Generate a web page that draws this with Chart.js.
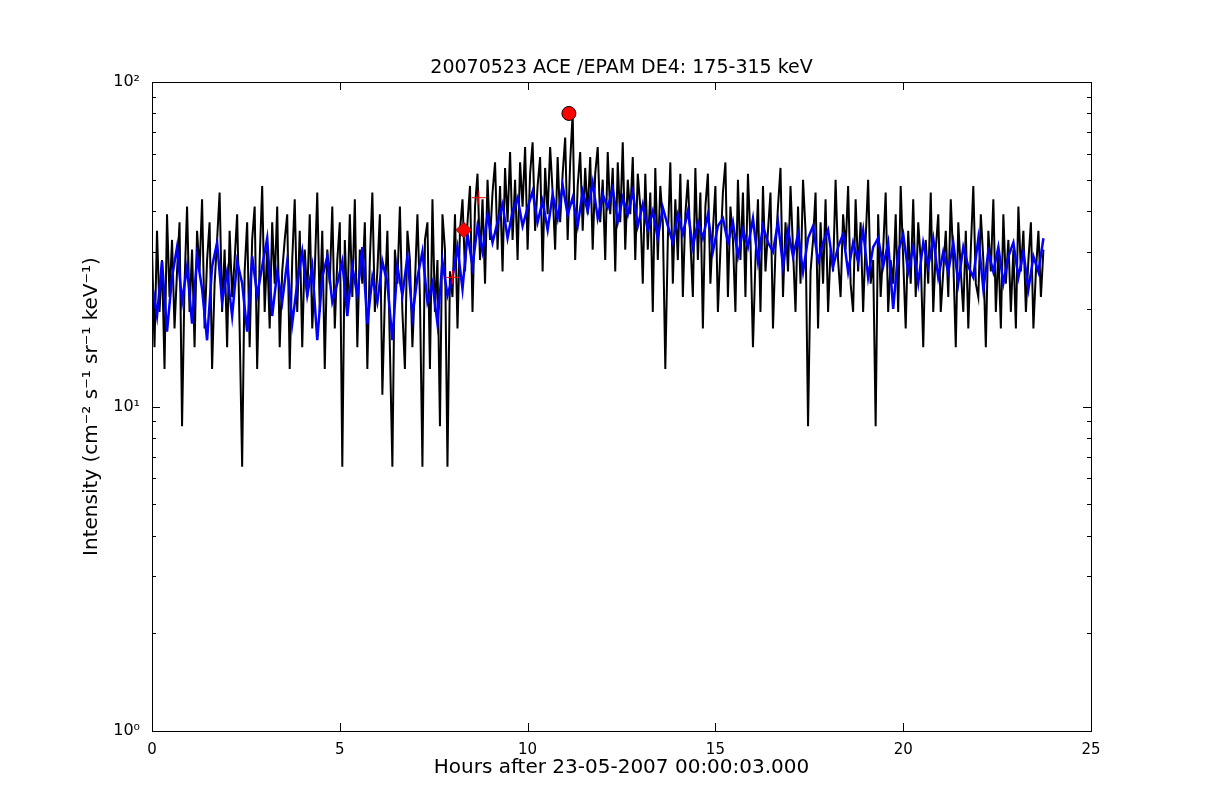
<!DOCTYPE html>
<html>
<head>
<meta charset="utf-8">
<script src="https://cdn.jsdelivr.net/npm/chart.js@4/dist/chart.umd.min.js"></script>
<style>
body { margin: 0; background: #fff; }
#wrap { width: 1212px; height: 812px; }
</style>
</head>
<body>
<div id="wrap"><canvas id="c" width="1212" height="812"></canvas></div>
<script>
// raw counts per 4-minute sample, scaled to intensity below
const countScale = 2.174
const blackStep = 1 / 15
const blackCounts = [
14,7,16,9,13,6,18,10,15,8,12,17,4,11,19,9,14,7,16,12,
20,8,13,17,6,11,15,21,9,14,7,16,10,13,18,8,3,12,17,7,
15,19,6,13,22,9,14,8,17,11,19,7,12,15,18,6,13,20,9,16,
7,14,10,18,8,12,21,9,16,6,14,11,19,8,13,17,3,15,9,18,
10,20,7,14,11,17,6,13,21,9,12,18,5,10,16,7,3,14,11,19,
9,6,16,13,7,11,18,10,3,15,17,6,20,9,13,4,18,14,3,12,
10,18,8,16,20,12,17,22,9,19,24,13,20,11,23,15,21,26,14,22,
12,25,17,28,15,23,13,26,19,29,14,24,30,16,22,27,12,25,18,29,
21,14,27,17,24,31,15,26,37,13,22,28,16,25,18,27,14,24,29,17,
23,13,28,18,25,12,26,17,30,14,23,18,27,13,24,
19,11,24,14,21,9,25,13,22,17,6,15,26,11,20,13,24,10,18,23,
15,10,25,13,21,8,19,24,11,16,22,9,14,21,26,10,19,15,9,23,
13,21,10,24,15,7,13,20,9,22,12,16,21,8,14,19,25,10,17,12,
22,14,9,19,11,23,16,4,12,15,21,8,17,11,20,9,14,12,23,13,
10,18,14,22,11,9,20,12,17,9,15,23,11,13,4,18,10,14,21,9,
13,11,18,9,22,13,8,16,11,20,10,17,13,7,15,11,21,9,14,18,
9,12,16,10,20,13,7,17,12,9,16,8,14,22,11,10,18,13,7,16,
12,20,9,14,8,18,11,15,9,14,8,19,12,16,9,13,17,8,12,16,
10,14
]

// smoothed intensity, 8-minute samples
const blueStep = 2 / 15
const blueValues = [
24,19,28,17,25,31,21,27,18,29,23,16,27,32,21,26,19,28,24,17,
29,22,27,33,19,26,21,28,18,24,30,22,27,16,25,29,21,24,28,19,
27,22,31,18,25,21,28,24,16,27,22,29,19,25,30,21,24,18,28,22,
25,31,23,34,27,36,30,39,32,37,42,33,40,44,36,41,46,37,43,35,
45,38,48,39,44,36,46,40,49,38,45,41,47,37,44,39,46,36,
42,35,40,33,41,36,32,39,34,40,31,37,33,39,30,36,38,32,37,29,
35,31,38,28,36,32,30,37,27,35,29,34,26,33,36,28,32,35,27,31,
34,26,32,28,35,25,31,33,27,32,20,30,34,26,31,24,32,27,33,25,
30,26,32,24,31,27,25,33,23,30,26,31,24,29,32,25,30,23,29,26,
33
]

const peakPoint = [{x: 11.1, y: 80}]
const onsetPoint = [{x: 8.3, y: 35}]
const crossPoints = [{x: 8.0, y: 25}, {x: 8.7, y: 44}]

const xTicks = [0, 5, 10, 15, 20, 25]
const yMajor = [1, 10, 100]
const yLabels = {1: "10⁰", 10: "10¹", 100: "10²"}

const blackData = blackCounts.map((c, i) => ({x: i * blackStep, y: c * countScale}))
const blueData = blueValues.map((v, i) => ({x: i * blueStep, y: v}))

const frame = {
    id: "frame",
    afterDraw(chart) {
        const a = chart.chartArea, ctx = chart.ctx
        ctx.save()
        ctx.strokeStyle = "#000"
        ctx.lineWidth = 1
        ctx.strokeRect(a.left + 0.5, a.top + 0.5, a.right - a.left, a.bottom - a.top)
        // inward ticks on all four sides
        const ys = chart.scales.y
        ys.ticks.forEach(t => {
            const p = Math.round(ys.getPixelForValue(t.value)) + 0.5
            const len = yMajor.includes(t.value) ? 8 : 4
            ctx.beginPath(); ctx.moveTo(a.right - len, p); ctx.lineTo(a.right, p); ctx.stroke()
            ctx.beginPath(); ctx.moveTo(a.left, p); ctx.lineTo(a.left + len, p); ctx.stroke()
        })
        const xs = chart.scales.x
        xTicks.forEach(v => {
            const p = Math.round(xs.getPixelForValue(v)) + 0.5
            ctx.beginPath(); ctx.moveTo(p, a.top); ctx.lineTo(p, a.top + 8); ctx.stroke()
            ctx.beginPath(); ctx.moveTo(p, a.bottom); ctx.lineTo(p, a.bottom - 8); ctx.stroke()
        })
        ctx.fillStyle = "#000"
        ctx.textAlign = "center"
        ctx.textBaseline = "bottom"
        ctx.font = "19px 'DejaVu Sans'"
        ctx.fillText("20070523 ACE /EPAM DE4: 175-315 keV", (a.left + a.right) / 2, a.top - 4)
        ctx.textBaseline = "middle"
        ctx.font = "20px 'DejaVu Sans'"
        ctx.fillText("Hours after 23-05-2007 00:00:03.000", (a.left + a.right) / 2, 768)
        ctx.translate(92, (a.top + a.bottom) / 2)
        ctx.rotate(-Math.PI / 2)
        ctx.fillText("Intensity (cm⁻² s⁻¹ sr⁻¹ keV⁻¹)", 0, 0)
        ctx.restore()
    }
}

new Chart(document.getElementById("c"), {
    type: "scatter",
    data: {
        datasets: [
            {data: blackData, showLine: true, borderColor: "#000", borderWidth: 2, pointRadius: 0, order: 4},
            {data: blueData, showLine: true, borderColor: "#0000ff", borderWidth: 2.5, pointRadius: 0, order: 3},
            {data: crossPoints, pointStyle: "cross", pointRadius: 7, borderColor: "#ff0000", borderWidth: 1, order: 2},
            {data: onsetPoint, pointStyle: "rectRot", pointRadius: 8, backgroundColor: "#ff0000", borderColor: "#000", borderWidth: 0.5, order: 1},
            {data: peakPoint, pointStyle: "circle", pointRadius: 7, backgroundColor: "#ff0000", borderColor: "#000", borderWidth: 1, order: 0}
        ]
    },
    plugins: [frame],
    options: {
        responsive: false,
        animation: false,
        layout: {padding: {top: 82, right: 121, left: 0, bottom: 0}},
        plugins: {legend: {display: false}, tooltip: {enabled: false}},
        scales: {
            x: {
                type: "linear", min: 0, max: 25,
                afterBuildTicks: s => { s.ticks = xTicks.map(v => ({value: v})) },
                afterFit: s => { s.height = 81 },
                grid: {display: false},
                border: {display: false},
                ticks: {color: "#000", font: {family: "DejaVu Sans", size: 15}, padding: 2}
            },
            y: {
                type: "logarithmic", min: 1, max: 100,
                afterBuildTicks: s => {
                    const t = []
                    for (let d = 1; d < 100; d *= 10) for (let m = 1; m < 10; m++) t.push({value: d * m})
                    t.push({value: 100})
                    s.ticks = t
                },
                afterFit: s => { s.width = 152 },
                grid: {display: false},
                border: {display: false},
                ticks: {color: "#000", font: {family: "DejaVu Sans", size: 16}, padding: 4, autoSkip: false,
                    callback: v => yLabels[v] || ""}
            }
        }
    }
})
</script>
</body>
</html>
